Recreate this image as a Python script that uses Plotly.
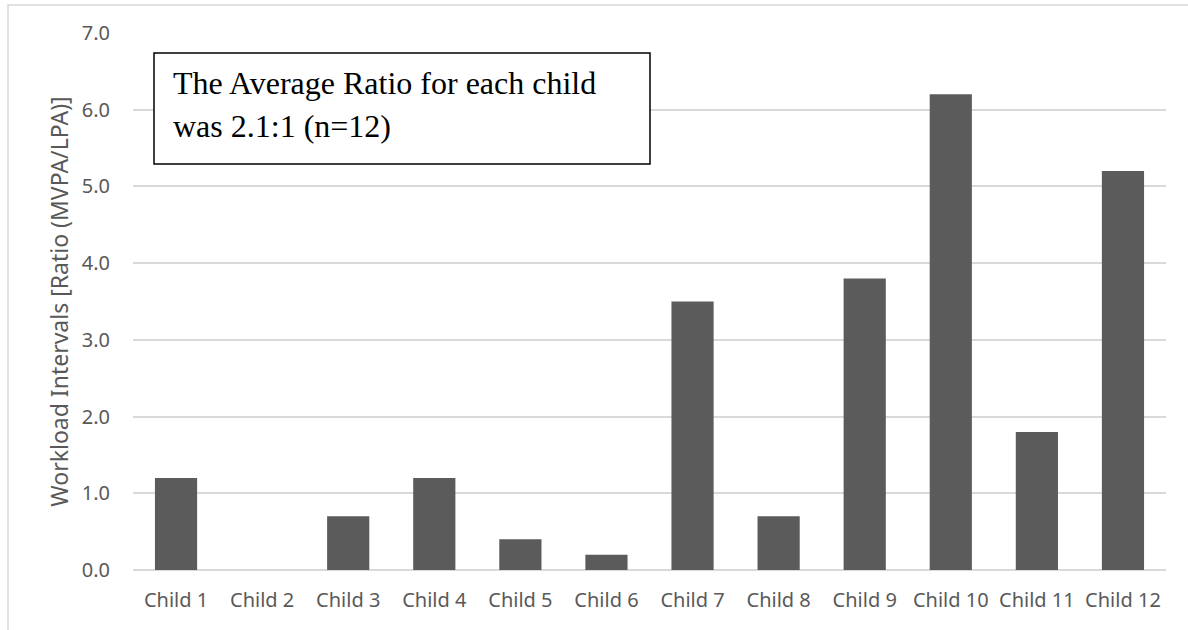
import plotly.graph_objects as go

# Workload interval ratios per child
children = ["Child 1", "Child 2", "Child 3", "Child 4", "Child 5", "Child 6",
            "Child 7", "Child 8", "Child 9", "Child 10", "Child 11", "Child 12"]
ratios = [1.2, 0.0, 0.7, 1.2, 0.4, 0.2, 3.5, 0.7, 3.8, 6.2, 1.8, 5.2]
y_ticks = [0, 1, 2, 3, 4, 5, 6, 7]
y_tick_labels = ["0.0", "1.0", "2.0", "3.0", "4.0", "5.0", "6.0", "7.0"]
note_lines = ["The Average Ratio for each child", "was 2.1:1 (n=12)"]

W, H = 1188, 630
L, R, T, B = 133, 22, 33, 60
pw, ph = W - L - R, H - T - B


def px_x(x):
    return (x - L) / pw


def px_y(y):
    return (H - B - y) / ph


sans = "'Noto Sans', 'Open Sans', sans-serif"
tick_font = dict(family=sans, size=20, color="#595959")
title_font = dict(family=sans, size=23, color="#595959")
note_font = dict(family="'Liberation Serif', 'Times New Roman', serif", size=32, color="black")

fig = go.Figure(go.Bar(
    x=children, y=ratios,
    marker=dict(color="#5b5b5b", line=dict(width=0)),
    width=0.49,
))

fig.update_layout(
    width=W, height=H,
    margin=dict(l=L, r=R, t=T, b=B),
    paper_bgcolor="white", plot_bgcolor="white",
    showlegend=False,
    bargap=0.51,
    xaxis=dict(
        showgrid=False, showline=False, zeroline=False,
        tickfont=tick_font, ticks="", ticklabelstandoff=16,
    ),
    yaxis=dict(
        range=[0, 7], tickvals=y_ticks, ticktext=y_tick_labels,
        showgrid=True, gridcolor="#d9d9d9", gridwidth=1.5,
        zeroline=True, zerolinecolor="#d9d9d9", zerolinewidth=1.5,
        showline=False, ticks="", ticklabelstandoff=22,
        tickfont=tick_font,
        title=dict(text="Workload Intervals [Ratio (MVPA/LPA)]",
                   font=title_font, standoff=6),
    ),
    shapes=[
        # chart frame
        dict(type="rect", xref="paper", yref="paper",
             x0=px_x(8), x1=px_x(1195), y0=px_y(640), y1=px_y(5),
             line=dict(color="#d9d9d9", width=1.5), fillcolor="rgba(0,0,0,0)",
             layer="below"),
        # note box
        dict(type="rect", xref="paper", yref="paper",
             x0=px_x(154), x1=px_x(650), y0=px_y(164), y1=px_y(53),
             line=dict(color="black", width=1.5), fillcolor="white"),
    ],
    annotations=[
        dict(text=note_lines[0], xref="paper", yref="paper",
             x=px_x(171), y=px_y(83), xanchor="left", yanchor="middle",
             showarrow=False, font=note_font),
        dict(text=note_lines[1], xref="paper", yref="paper",
             x=px_x(171), y=px_y(126), xanchor="left", yanchor="middle",
             showarrow=False, font=note_font),
    ],
)

fig.write_html("out.html")
